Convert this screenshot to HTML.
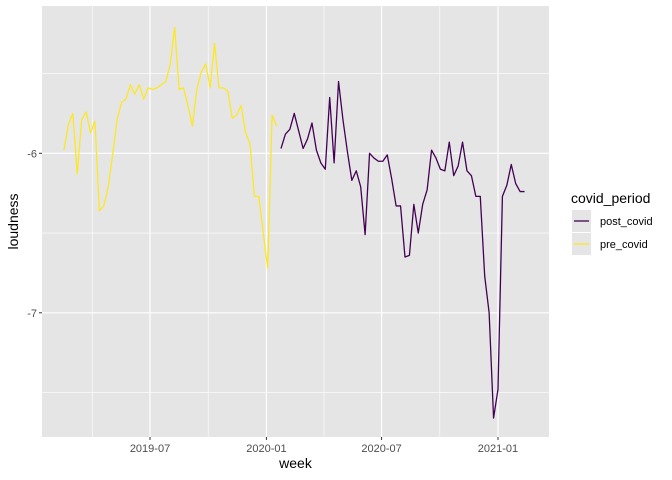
<!DOCTYPE html>
<html><head><meta charset="utf-8"><style>
body{margin:0;background:#fff;}
svg{display:block;font-family:"Liberation Sans",Arial,sans-serif;}
</style></head><body>
<svg id="c" width="672" height="480"></svg>
<script>
const startDate = "2019-02-15";
const preValues = [-5.98,-5.82,-5.75,-6.13,-5.79,-5.74,-5.87,-5.80,-6.36,-6.33,-6.21,-6.01,-5.79,-5.68,-5.66,-5.57,-5.63,-5.57,-5.66,-5.59,-5.60,-5.59,-5.57,-5.55,-5.44,-5.21,-5.60,-5.59,-5.70,-5.83,-5.60,-5.49,-5.44,-5.59,-5.31,-5.59,-5.59,-5.61,-5.78,-5.76,-5.70,-5.87,-5.94,-6.27,-6.27,-6.50,-6.72,-5.76,-5.83];
const postValues = [-5.97,-5.88,-5.85,-5.75,-5.86,-5.97,-5.91,-5.81,-5.98,-6.06,-6.10,-5.65,-6.06,-5.55,-5.79,-5.99,-6.17,-6.11,-6.21,-6.51,-6.00,-6.03,-6.05,-6.05,-6.01,-6.16,-6.33,-6.33,-6.65,-6.64,-6.32,-6.50,-6.32,-6.23,-5.98,-6.03,-6.10,-6.11,-5.93,-6.14,-6.08,-5.93,-6.11,-6.14,-6.27,-6.27,-6.77,-7.00,-7.66,-7.48,-6.27,-6.20,-6.07,-6.19,-6.24,-6.24];
const yTicks = [-6,-7];
const yMinor = [-5.5,-6.5,-7.5];
const xTickLabels = ["2019-07","2020-01","2020-07","2021-01"];
const xMinorDates = ["2019-04-01","2019-10-01","2020-04-01","2020-10-01"];

const svg=document.getElementById('c');
const NS="http://www.w3.org/2000/svg";
const L=42,R=549,T=6,B=437;
const day=86400000;
const ref=Date.UTC(2019,6,1);
function parse(s){const p=s.split('-').map(Number);return Date.UTC(p[0],p[1]-1,p[2]||1);}
function xScale(t){return 150+(t-ref)/day*0.6327;}
function yScale(v){return 153.3-(v+6)*159.5;}
const t0=parse(startDate);
function wk(i){return t0+i*7*day;}
function mk(tag,attrs,parent){const e=document.createElementNS(NS,tag);for(const k in attrs)e.setAttribute(k,attrs[k]);(parent||svg).appendChild(e);return e;}

let bg=mk('rect',{x:L,y:T,width:R-L,height:B-T,fill:'#e5e5e5'});


yMinor.forEach(v=>{let l=mk('line',{x1:L,x2:R,y1:yScale(v),y2:yScale(v),stroke:'#fff','stroke-width':0.6});

});
xMinorDates.forEach(d=>{const x=xScale(parse(d));let l=mk('line',{x1:x,x2:x,y1:T,y2:B,stroke:'#fff','stroke-width':0.6});

});
yTicks.forEach(v=>{const y=yScale(v);let l=mk('line',{x1:L,x2:R,y1:y,y2:y,stroke:'#fff','stroke-width':1.2});


let tk=mk('line',{x1:L-3,x2:L,y1:y,y2:y,stroke:'#333','stroke-width':1});


let t=mk('text',{x:L-5,y:y+4,'text-anchor':'end','font-size':11,fill:'#4d4d4d'});t.textContent=v;

});
xTickLabels.forEach(s=>{const x=xScale(parse(s));let l=mk('line',{x1:x,x2:x,y1:T,y2:B,stroke:'#fff','stroke-width':1.2});


let tk=mk('line',{x1:x,x2:x,y1:B,y2:B+3,stroke:'#333','stroke-width':1});


let t=mk('text',{x:x,y:452,'text-anchor':'middle','font-size':11,fill:'#4d4d4d'});t.textContent=s;

});

function line(vals,off,color,name){
  const d=vals.map((v,i)=>(i?'L':'M')+xScale(wk(i+off)).toFixed(2)+','+yScale(v).toFixed(2)).join('');
  let p=mk('path',{d:d,fill:'none',stroke:color,'stroke-width':1.3,'stroke-linejoin':'round'});
  
  
}
line(preValues,0,'#fde725','pre-covid-line');
line(postValues,preValues.length,'#440154','post-covid-line');

let xt=mk('text',{x:(L+R)/2,y:468,'text-anchor':'middle','font-size':14,fill:'#000'});xt.textContent='week';


let yt=mk('text',{x:0,y:0,transform:'translate(18,'+((T+B)/2)+') rotate(-90)','text-anchor':'middle','font-size':14,fill:'#000'});yt.textContent='loudness';



let lt=mk('text',{x:571,y:203,'font-size':14,fill:'#000'});lt.textContent='covid_period';


[['post_covid','#440154',221],['pre_covid','#fde725',244]].forEach(([lab,c,y])=>{
  let r=mk('rect',{x:572,y:y-11,width:19,height:22,fill:'#e5e5e5'});
  
  
  let l=mk('line',{x1:574,x2:589,y1:y,y2:y,stroke:c,'stroke-width':1.3});
  
  
  let t=mk('text',{x:600,y:y+4,'font-size':11,fill:'#000'});t.textContent=lab;
  
  
});
</script>
</body></html>
